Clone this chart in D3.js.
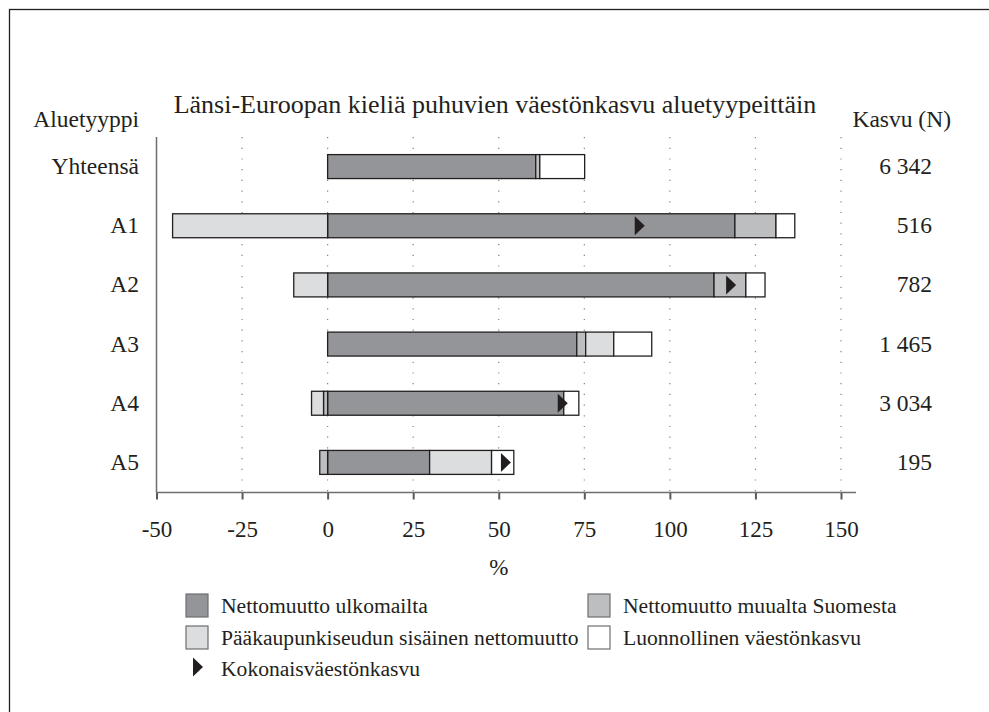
<!DOCTYPE html>
<html>
<head>
<meta charset="utf-8">
<script src="https://cdn.jsdelivr.net/npm/d3@7"></script>
<style>
  body { margin: 0; background: #fff; }
</style>
</head>
<body>
<svg id="chart" width="989" height="712" style="font-family: 'Liberation Serif', 'DejaVu Serif', serif;"></svg>
<script>
// data (percent of population)
const categories = ["Yhteensä", "A1", "A2", "A3", "A4", "A5"];
const growthN = ["6 342", "516", "782", "1 465", "3 034", "195"];
const ulkomailta = [60.8, 119.0, 112.9, 72.8, 69.0, 29.8];
const muualtaSuomesta = [1.2, 12.0, 9.3, 2.6, -1.2, -2.3];
const paakaupunkiseutu = [0, -45.3, -9.9, 8.2, -3.5, 18.1];
const luonnollinen = [13.1, 5.5, 5.6, 11.1, 4.4, 6.5];
const kokonais = [null, 91.2, 117.9, null, 68.7, 52.1];
const xTicks = [-50, -25, 0, 25, 50, 75, 100, 125, 150];

const keys = ["ulk", "muu", "pk", "luo"];
const colors = { ulk: "#939598", muu: "#bcbec0", pk: "#dcddde", luo: "#ffffff" };
const legendLabels = {
  ulk: "Nettomuutto ulkomailta",
  muu: "Nettomuutto muualta Suomesta",
  pk: "Pääkaupunkiseudun sisäinen nettomuutto",
  luo: "Luonnollinen väestönkasvu"
};

const rows = categories.map((c, i) => ({
  cat: c,
  ulk: ulkomailta[i],
  muu: muualtaSuomesta[i],
  pk: paakaupunkiseutu[i],
  luo: luonnollinen[i],
  total: kokonais[i],
  n: growthN[i]
}));

const serif = "'Liberation Serif', 'DejaVu Serif', serif";
const ink = "#231f20";
const svg = d3.select("#chart");

function label(sel) {
  return sel.style("font-family", serif).attr("fill", ink);
}

// outer frame, runs off the page on the right and bottom
svg.append("rect")
  .attr("x", 9.5).attr("y", 9.5)
  .attr("width", 1000).attr("height", 720)
  .attr("fill", "none").attr("stroke", ink).attr("stroke-width", 1.3);

const x = d3.scaleLinear().domain([-50, 150]).range([156.5, 841]);
const y = d3.scaleBand().domain(categories).range([137, 492])
  .paddingInner(0.595).paddingOuter(0.2975);
const axisY = 492.5;

// title and headers
label(svg.append("text"))
  .attr("x", 495).attr("y", 113)
  .attr("text-anchor", "middle")
  .attr("font-size", 26)
  .text("Länsi-Euroopan kieliä puhuvien väestönkasvu aluetyypeittäin");
label(svg.append("text"))
  .attr("x", 139).attr("y", 127)
  .attr("text-anchor", "end")
  .attr("font-size", 23.5)
  .text("Aluetyyppi");
label(svg.append("text"))
  .attr("x", 951).attr("y", 127)
  .attr("text-anchor", "end")
  .attr("font-size", 23.5)
  .text("Kasvu (N)");

// dotted grid
svg.append("g")
  .selectAll("line")
  .data(xTicks.filter(t => t > -50))
  .join("line")
  .attr("x1", d => x(d)).attr("x2", d => x(d))
  .attr("y1", 137).attr("y2", axisY)
  .attr("stroke", "#808285")
  .attr("stroke-width", 1.2)
  .attr("stroke-dasharray", "1.2,9.5");

// stacked bars, negatives to the left of zero
const stack = d3.stack().keys(keys).offset(d3.stackOffsetDiverging);
const series = stack(rows);

svg.append("g")
  .selectAll("g")
  .data(series)
  .join("g")
  .attr("fill", d => colors[d.key])
  .selectAll("rect")
  .data(d => d.filter(s => s[1] !== s[0]))
  .join("rect")
  .attr("x", d => x(Math.min(d[0], d[1])))
  .attr("y", d => y(d.data.cat))
  .attr("width", d => Math.abs(x(d[1]) - x(d[0])))
  .attr("height", y.bandwidth())
  .attr("stroke", ink)
  .attr("stroke-width", 1.3);

// total growth markers
const tri = (cx, cy, w, h) => `M${cx - w / 2},${cy - h / 2}L${cx + w / 2},${cy}L${cx - w / 2},${cy + h / 2}Z`;
svg.append("g")
  .selectAll("path")
  .data(rows.filter(r => r.total != null))
  .join("path")
  .attr("d", d => tri(x(d.total), y(d.cat) + y.bandwidth() / 2, 10, 19))
  .attr("fill", ink);

// category labels and N
label(svg.append("g")
  .selectAll("text")
  .data(rows)
  .join("text"))
  .attr("x", 139)
  .attr("y", d => y(d.cat) + y.bandwidth() / 2 + 7.5)
  .attr("text-anchor", "end")
  .attr("font-size", 23.5)
  .text(d => d.cat);
label(svg.append("g")
  .selectAll("text")
  .data(rows)
  .join("text"))
  .attr("x", 932)
  .attr("y", d => y(d.cat) + y.bandwidth() / 2 + 7.5)
  .attr("text-anchor", "end")
  .attr("font-size", 23.5)
  .text(d => d.n);

// axes
svg.append("line")
  .attr("x1", x(-50)).attr("x2", x(-50))
  .attr("y1", 137).attr("y2", axisY)
  .attr("stroke", "#6d6e71").attr("stroke-width", 1.5);

const xAxis = svg.append("g")
  .attr("transform", `translate(0,${axisY})`)
  .call(d3.axisBottom(x).tickValues(xTicks).tickSize(7).tickSizeOuter(0).tickPadding(21)
    .tickFormat(d3.format("d")));
xAxis.attr("font-family", null).attr("font-size", null);
xAxis.select(".domain").remove();
xAxis.append("line")
  .attr("x1", x(-50)).attr("x2", x(150) + 15)
  .attr("stroke", "#6d6e71").attr("stroke-width", 1.5);
xAxis.selectAll(".tick line").attr("stroke", "#58595b").attr("stroke-width", 2);
label(xAxis.selectAll(".tick text"))
  .attr("font-size", 23)
  .text(d => d < 0 ? "-" + Math.abs(d) : d);

label(svg.append("text"))
  .attr("x", x(50)).attr("y", 575)
  .attr("text-anchor", "middle")
  .attr("font-size", 23)
  .text("%");

// legend
const legendItems = [
  { key: "ulk", col: 0, row: 0 },
  { key: "muu", col: 1, row: 0 },
  { key: "pk", col: 0, row: 1 },
  { key: "luo", col: 1, row: 1 }
];
const legendCols = [186, 588];
const legendRows = [594, 626, 657];
const legend = svg.append("g");
legendItems.forEach(it => {
  const g = legend.append("g")
    .attr("transform", `translate(${legendCols[it.col]},${legendRows[it.row]})`);
  g.append("rect")
    .attr("width", 22).attr("height", 23)
    .attr("fill", colors[it.key])
    .attr("stroke", "#6d6e71").attr("stroke-width", 1.2);
  label(g.append("text"))
    .attr("x", 35).attr("y", 19)
    .attr("font-size", 21.6)
    .text(legendLabels[it.key]);
});
const lt = legend.append("g")
  .attr("transform", `translate(${legendCols[0]},${legendRows[2]})`);
lt.append("path").attr("d", tri(12, 10, 10, 19)).attr("fill", ink);
label(lt.append("text"))
  .attr("x", 35).attr("y", 19)
  .attr("font-size", 21.6)
  .text("Kokonaisväestönkasvu");
</script>
</body>
</html>
